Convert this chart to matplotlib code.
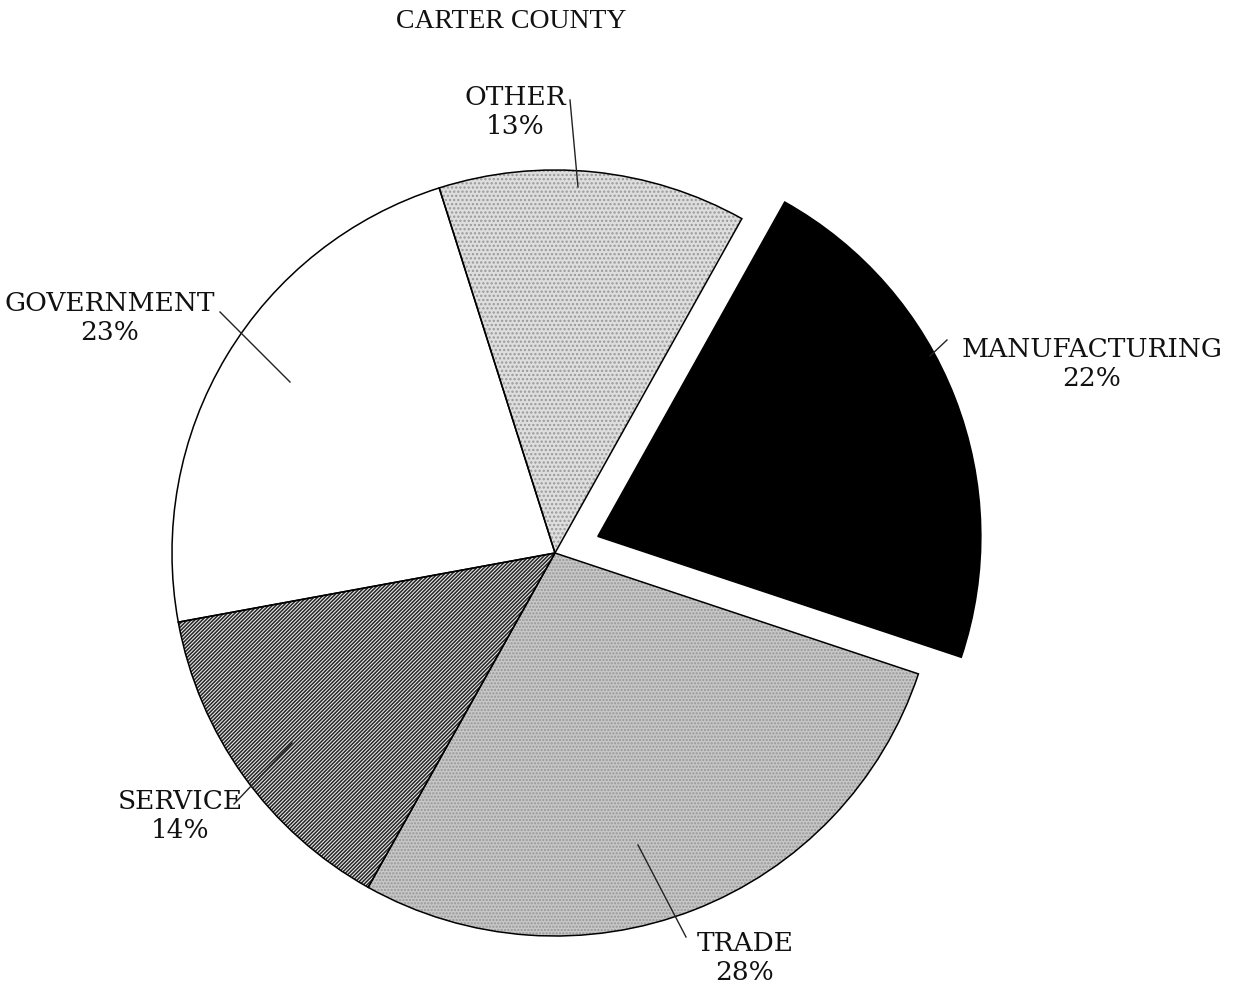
import matplotlib
matplotlib.use('Agg')
import matplotlib.pyplot as plt
from matplotlib.patches import Wedge
from matplotlib.lines import Line2D

# ---- data ----
title = "CARTER COUNTY"
categories = ["OTHER", "MANUFACTURING", "TRADE", "SERVICE", "GOVERNMENT"]
shares = [13, 22, 28, 14, 23]

# ---- styles / layout ----
face = ['#dedede', 'black', '#c8c8c8', '#e8e8e8', 'white']
hatches = ['....', None, '.....', '/////////', None]
hatch_cols = ['#999999', None, '#969696', '#262626', None]
explode = [0, 0.12, 0, 0, 0]

W, H = 1236, 990
cx, cy, R = 555, 553, 383  # pixel centre and radius of pie

# label centres (pixels, origin top-left)
label_pos = {"OTHER": (515, 112), "MANUFACTURING": (1092, 364), "TRADE": (745, 958),
             "SERVICE": (180, 816), "GOVERNMENT": (110, 318)}
leaders = {"OTHER": ((570, 100), (578, 187)),
           "MANUFACTURING": ((930, 356), (947, 340)),
           "TRADE": ((686, 937), (638, 845)),
           "SERVICE": ((234, 804), (292, 743)),
           "GOVERNMENT": ((220, 312), (290, 382))}

plt.rcParams['hatch.linewidth'] = 1.1

fig = plt.figure(figsize=(W / 100, H / 100), dpi=100)
ax = fig.add_axes([0, 0, 1, 1])

wedges, _ = ax.pie(shares, startangle=107.6, counterclock=False, explode=explode,
                   colors=face, wedgeprops=dict(linewidth=0, edgecolor='none'))

for w, h, hc in zip(wedges, hatches, hatch_cols):
    if h:
        ax.add_patch(Wedge(w.center, w.r, w.theta1, w.theta2, fill=False,
                           hatch=h, edgecolor=hc, linewidth=0))
    ax.add_patch(Wedge(w.center, w.r, w.theta1, w.theta2, fill=False,
                       edgecolor='black', linewidth=1.1))

ax.set_xlim(-cx / R, (W - cx) / R)
ax.set_ylim(-(H - cy) / R, cy / R)
ax.set_aspect('equal')
ax.axis('off')


def fp(x, y):
    return x / W, 1 - y / H


fig.text(*fp(511, 22), title, ha='center', va='center', fontsize=20,
         family='Liberation Serif', color='#111111')

for name, val in zip(categories, shares):
    x, y = label_pos[name]
    fig.text(*fp(x, y), f"{name}\n{val}%", ha='center', va='center', fontsize=19,
             family='DejaVu Serif', color='#111111', linespacing=1.2)
    (x1, y1), (x2, y2) = leaders[name]
    p1, p2 = fp(x1, y1), fp(x2, y2)
    fig.add_artist(Line2D([p1[0], p2[0]], [p1[1], p2[1]], transform=fig.transFigure,
                          color='#222222', linewidth=1.0))

fig.savefig('out.png', dpi=100, facecolor='white')
